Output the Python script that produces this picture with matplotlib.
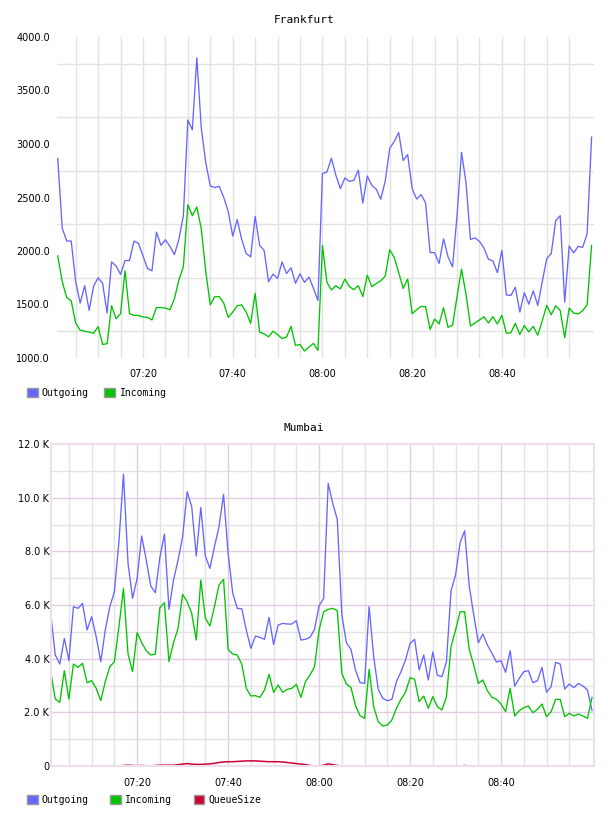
import pandas as pd
import matplotlib.pyplot as plt
import matplotlib.dates as mdates
from matplotlib.patches import Patch

# one sample per minute, 07:01 .. 09:00
times = pd.date_range("2024-01-01 07:01", periods=120, freq="min")

# Frankfurt
fra_out = [2864, 2213, 2093, 2093, 1713, 1513, 1676, 1445, 1673, 1750,
           1698, 1420, 1898, 1861, 1781, 1911, 1911, 2093, 2071, 1954,
           1837, 1815, 2176, 2053, 2105, 2043, 1966, 2108, 2330, 3225,
           3133, 3806, 3148, 2824, 2608, 2593, 2605, 2500, 2370, 2139,
           2293, 2108, 1976, 1945, 2324, 2053, 2006, 1713, 1784, 1744,
           1898, 1790, 1843, 1698, 1787, 1707, 1756, 1651, 1537, 2725,
           2738, 2867, 2707, 2583, 2682, 2651, 2660, 2756, 2448, 2701,
           2614, 2577, 2485, 2654, 2960, 3022, 3108, 2846, 2901, 2583,
           2485, 2528, 2448, 1985, 1985, 1883, 2114, 1945, 1852, 2330,
           2923, 2639, 2108, 2123, 2090, 2028, 1923, 1907, 1797, 2006,
           1590, 1584, 1661, 1429, 1611, 1503, 1627, 1491, 1713, 1929,
           1976, 2284, 2330, 1522, 2047, 1982, 2043, 2034, 2160, 3065]
fra_in = [1954, 1713, 1565, 1534, 1327, 1260, 1250, 1241, 1232, 1293,
          1127, 1133, 1488, 1368, 1414, 1815, 1414, 1398, 1398, 1383,
          1380, 1355, 1472, 1472, 1466, 1451, 1553, 1729, 1852, 2432,
          2330, 2411, 2207, 1806, 1497, 1574, 1574, 1513, 1380, 1429,
          1488, 1497, 1429, 1324, 1605, 1241, 1226, 1198, 1250, 1219,
          1182, 1195, 1296, 1117, 1127, 1065, 1102, 1136, 1071, 2053,
          1707, 1636, 1676, 1645, 1738, 1667, 1639, 1676, 1574, 1774,
          1667, 1695, 1722, 1766, 2013, 1939, 1800, 1651, 1738, 1414,
          1451, 1482, 1479, 1266, 1364, 1318, 1469, 1287, 1306, 1574,
          1830, 1596, 1299, 1327, 1355, 1386, 1327, 1386, 1318, 1398,
          1232, 1235, 1324, 1219, 1303, 1244, 1296, 1213, 1349, 1491,
          1404, 1488, 1445, 1189, 1466, 1420, 1411, 1442, 1497, 2053]

# Mumbai
mum_out = [5688, 4136, 3800, 4757, 3925, 5937, 5875, 6061, 5067, 5564,
           4819, 3887, 5067, 5937, 6496, 8359, 10880, 7551, 6247, 6992,
           8570, 7676, 6707, 6458, 7775, 8644, 5837, 6930, 7676, 8545,
           10222, 9663, 7825, 9638, 7825, 7365, 8172, 8918, 10122, 7924,
           6458, 5875, 5862, 5067, 4384, 4844, 4794, 4720, 5539, 4533,
           5254, 5316, 5291, 5291, 5415, 4695, 4720, 4794, 5092, 5974,
           6247, 10532, 9787, 9191, 5626, 4595, 4347, 3577, 3105, 3080,
           5937, 4074, 2857, 2521, 2434, 2484, 3142, 3515, 3950, 4570,
           4720, 3577, 4136, 3204, 4248, 3378, 3329, 3887, 6533, 7117,
           8321, 8769, 6707, 5626, 4595, 4918, 4508, 4198, 3875, 3925,
           3490, 4297, 2981, 3266, 3515, 3552, 3105, 3180, 3676, 2745,
           2956, 3863, 3800, 2869, 3055, 2919, 3080, 2981, 2832, 2062]
mum_in = [3515, 2496, 2372, 3552, 2496, 3800, 3676, 3825, 3105, 3180,
          2894, 2434, 3142, 3701, 3887, 5192, 6620, 4173, 3515, 4968,
          4595, 4297, 4136, 4173, 5900, 6086, 3887, 4595, 5130, 6396,
          6123, 5688, 4695, 6930, 5502, 5216, 5937, 6744, 6955, 4347,
          4173, 4136, 3800, 2894, 2608, 2621, 2558, 2832, 3416, 2745,
          3018, 2745, 2857, 2894, 3043, 2558, 3142, 3391, 3701, 5067,
          5750, 5837, 5875, 5788, 3453, 3055, 2931, 2248, 1875, 1776,
          3602, 2211, 1652, 1490, 1528, 1714, 2149, 2484, 2745, 3291,
          3229, 2397, 2608, 2149, 2583, 2211, 2087, 2583, 4446, 5067,
          5750, 5750, 4347, 3763, 3080, 3204, 2807, 2558, 2484, 2310,
          2024, 2894, 1863, 2062, 2174, 2236, 1987, 2111, 2310, 1838,
          2024, 2484, 2484, 1838, 1962, 1863, 1938, 1863, 1776, 2558]
mum_queue = [0, 0, 0, 0, 0, 0, 0, 0, 0, 0,
             0, 0, 0, 0, 0, 0, 20, 30, 20, 10,
             20, 10, 0, 20, 30, 30, 30, 30, 50, 70,
             90, 70, 60, 60, 70, 80, 100, 130, 150, 160,
             160, 170, 180, 190, 190, 190, 180, 170, 160, 160,
             160, 150, 130, 110, 90, 70, 50, 20, 0, 0,
             30, 80, 50, 20, 0, 0, 0, 0, 0, 0,
             0, 0, 0, 0, 0, 0, 0, 0, 0, 0,
             0, 0, 0, 0, 0, 0, 0, 0, 0, 0,
             0, 20, 0, 0, 0, 0, 0, 0, 0, 0,
             0, 0, 0, 0, 0, 0, 0, 0, 0, 0,
             0, 0, 0, 0, 0, 0, 0, 0, 0, 0]

label_times = ["07:20", "07:40", "08:00", "08:20", "08:40"]

BLUE = "#6666ff"
GREEN = "#00c400"
RED = "#cc0033"
GRID = "#e2e2e2"
MAJOR = "#e2cce2"
LW = 0.95

plt.rcParams['font.family'] = 'DejaVu Sans'
fig = plt.figure(figsize=(6.08, 8.16), dpi=100)

day = "2024-01-01 "
major_ticks = pd.to_datetime([day + t for t in label_times])
minor_ticks = pd.date_range(day + "07:05", day + "08:55", freq="5min")

# ---- Frankfurt ----
ax1 = fig.add_axes([57 / 608, 1 - 358 / 816, 537 / 608, 321 / 816])
for t in minor_ticks:
    ax1.axvline(t, color=GRID, lw=1, zorder=0)
for v in [1250, 1750, 2250, 2750, 3250, 3750]:
    ax1.axhline(v, color=GRID, lw=1, zorder=0)
ax1.plot(times, fra_out, color=BLUE, lw=LW)
ax1.plot(times, fra_in, color=GREEN, lw=LW)
ax1.set_xlim(pd.Timestamp(day + "07:00:50"), pd.Timestamp(day + "09:00:32"))
ax1.set_ylim(1000, 4000)
ax1.set_yticks([1000, 1500, 2000, 2500, 3000, 3500, 4000])
ax1.set_yticklabels([f"{v:.1f}" for v in ax1.get_yticks()])
ax1.set_xticks(major_ticks)
ax1.xaxis.set_major_formatter(mdates.DateFormatter("%H:%M"))
ax1.tick_params(length=0, labelsize=7)
ax1.tick_params(axis='y', pad=5)
ax1.tick_params(axis='x', pad=8)
for s in ax1.spines.values():
    s.set_visible(False)
fig.text(0.5, 1 - 20 / 816, "Frankfurt", ha='center', va='center',
         family='DejaVu Sans Mono', fontsize=8)
fig.legend(handles=[Patch(facecolor=BLUE, edgecolor="#999999", label="Outgoing"),
                    Patch(facecolor=GREEN, edgecolor="#999999", label="Incoming")],
           loc='center left', bbox_to_anchor=(22 / 608, 1 - 393 / 816), ncol=2,
           frameon=False, borderpad=0, handlelength=1.1, handleheight=1.1,
           handletextpad=0.45, columnspacing=1.6,
           prop={'family': 'DejaVu Sans Mono', 'size': 7})

# ---- Mumbai ----
ax2 = fig.add_axes([50.7 / 608, 1 - 766 / 816, 543.3 / 608, 322 / 816])
for t in minor_ticks:
    if t not in major_ticks:
        ax2.axvline(t, color=GRID, lw=1, zorder=0)
for t in major_ticks:
    ax2.axvline(t, color=MAJOR, lw=1, zorder=0.5)
for v in range(1000, 12000, 2000):
    ax2.axhline(v, color=GRID, lw=1, zorder=0)
for v in range(2000, 12000, 2000):
    ax2.axhline(v, color=MAJOR, lw=1, zorder=0.5)
ax2.plot(times, mum_out, color=BLUE, lw=LW)
ax2.plot(times, mum_in, color=GREEN, lw=LW)
ax2.plot(times, mum_queue, color=RED, lw=1.1)
ax2.set_xlim(pd.Timestamp(day + "07:01"), pd.Timestamp(day + "09:00:26"))
ax2.set_ylim(0, 12000)
ax2.set_yticks(range(0, 12001, 2000))
ax2.set_yticklabels(["0" if v == 0 else f"{v / 1000:.1f} K" for v in range(0, 12001, 2000)])
ax2.set_xticks(major_ticks)
ax2.xaxis.set_major_formatter(mdates.DateFormatter("%H:%M"))
ax2.tick_params(length=0, labelsize=7)
ax2.tick_params(axis='y', pad=1)
ax2.tick_params(axis='x', pad=9)
for s in ax2.spines.values():
    s.set_color("#eddfed")
    s.set_linewidth(1.5)
fig.text(0.5, 1 - 428 / 816, "Mumbai", ha='center', va='center',
         family='DejaVu Sans Mono', fontsize=8)
fig.legend(handles=[Patch(facecolor=BLUE, edgecolor="#999999", label="Outgoing"),
                    Patch(facecolor=GREEN, edgecolor="#999999", label="Incoming"),
                    Patch(facecolor=RED, edgecolor="#999999", label="QueueSize")],
           loc='center left', bbox_to_anchor=(22 / 608, 1 - 800 / 816), ncol=3,
           frameon=False, borderpad=0, handlelength=1.1, handleheight=1.1,
           handletextpad=0.45, columnspacing=2.2,
           prop={'family': 'DejaVu Sans Mono', 'size': 7})

fig.savefig("out.png", dpi=100)
